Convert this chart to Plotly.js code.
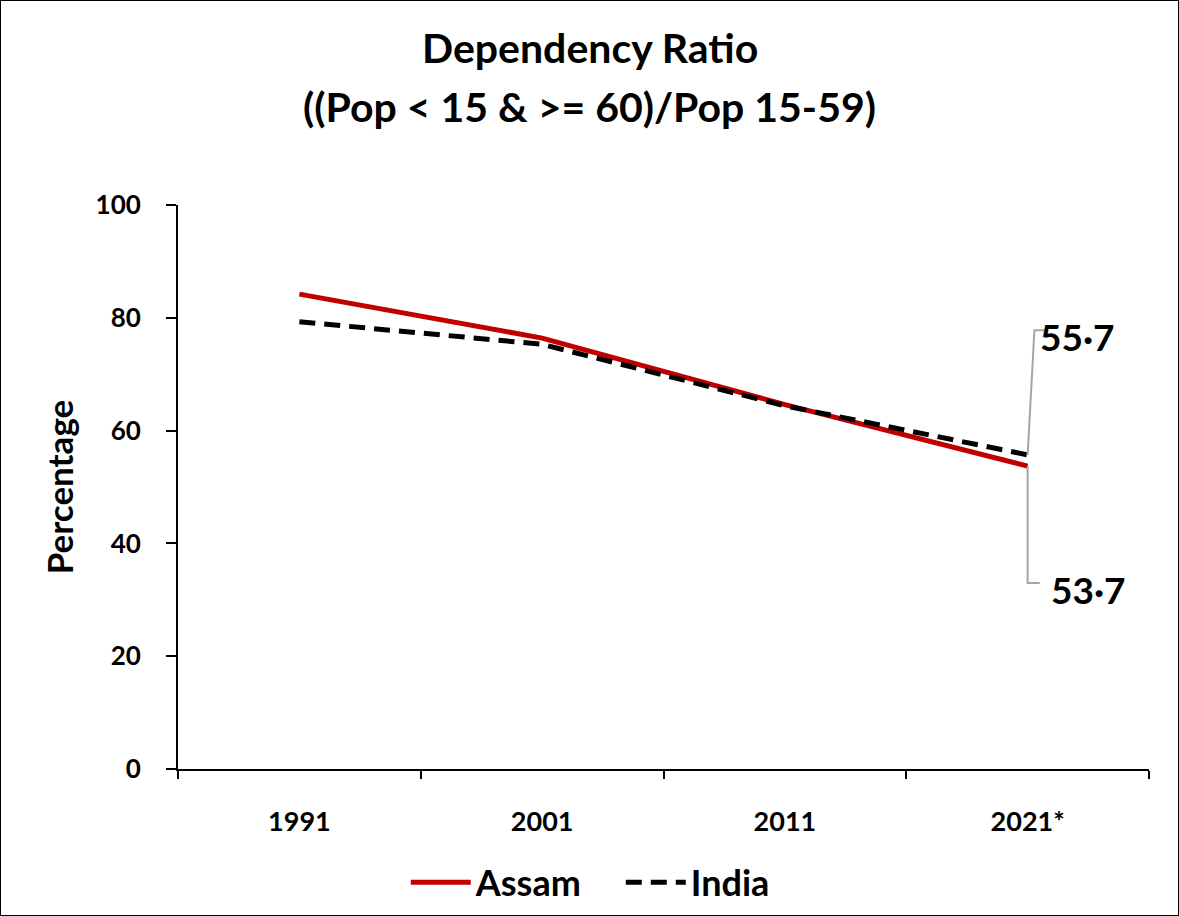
<!DOCTYPE html>
<html><head><meta charset="utf-8">
<script src="https://cdn.plot.ly/plotly-3.0.1.min.js"></script>
<style>html,body{margin:0;padding:0;background:#fff}#wrap{width:1179px;height:916px;box-sizing:border-box;border:1.5px solid #000;overflow:hidden}#chart{width:1176px;height:913px}</style>
</head><body><div id="wrap"><div id="chart"></div></div>
<script>
const years = ["1991", "2001", "2011", "2021*"];
const assam = [84.2, 76.4, 64.6, 53.7];
const india = [79.3, 75.3, 64.4, 55.7];
const labelAssam = "53·7";
const labelIndia = "55·7";
const titleLines = ["Dependency Ratio", "((Pop < 15 & >= 60)/Pop 15-59)"];

const F = "Lato, 'Open Sans', sans-serif";
const traces = [
  {x: years, y: assam, name: "Assam", type: "scatter", mode: "lines",
   line: {color: "#C00000", width: 5}},
  {x: years, y: india, name: "India", type: "scatter", mode: "lines",
   line: {color: "#000000", width: 5, dash: "16px,9px"}}
];
const layout = {
  width: 1176, height: 913,
  margin: {l: 177, r: 28, t: 204, b: 145, autoexpand: false},
  paper_bgcolor: "#fff", plot_bgcolor: "#fff",
  xaxis: {type: "category", range: [-0.5, 3.5], tickson: "boundaries",
          showline: true, linecolor: "#000", linewidth: 2, ticks: "outside", ticklen: 8, tickwidth: 2, tickcolor: "#000",
          showgrid: false, zeroline: false, ticklabelstandoff: 28,
          tickfont: {family: F, size: 27, color: "#000", weight: "bold"}},
  yaxis: {range: [0, 100], dtick: 20, showline: true, linecolor: "#000", linewidth: 2,
          ticks: "outside", ticklen: 10, tickwidth: 2, tickcolor: "#000", showgrid: false, zeroline: false,
          ticklabelstandoff: 20,
          tickfont: {family: F, size: 26, color: "#000", weight: "bold"},
          title: {text: "<b>Percentage</b>", font: {family: F, size: 35, color: "#000"}, standoff: 11}},
  showlegend: true,
  legend: {orientation: "h", x: 0.456, xanchor: "center", y: -0.201, yanchor: "middle",
           font: {family: F, size: 36, color: "#000", weight: "bold"}, itemwidth: 60,
           entrywidth: 140, entrywidthmode: "pixels"},
  shapes: [
    {type: "path", xref: "x", yref: "y", path: "M 3,55.7 L 3.028,77.8 L 3.08,77.8",
     line: {color: "#A6A6A6", width: 2}},
    {type: "path", xref: "x", yref: "y", path: "M 3,53.7 L 3,33.0 L 3.05,33.0",
     line: {color: "#A6A6A6", width: 2}}
  ],
  annotations: [
    {x: 0.424, y: 1.28, xref: "paper", yref: "paper", text: "<b>" + titleLines[0] + "</b>", showarrow: false,
     xanchor: "center", yanchor: "middle", font: {family: F, size: 41, color: "#000"}},
    {x: 0.424, y: 1.175, xref: "paper", yref: "paper", text: "<b>" + titleLines[1] + "</b>", showarrow: false,
     xanchor: "center", yanchor: "middle", font: {family: F, size: 41, color: "#000"}},
    {x: 3.043, y: 76.7, xref: "x", yref: "y", text: "<b>" + labelIndia + "</b>", showarrow: false,
     xanchor: "left", yanchor: "middle", font: {family: F, size: 37, color: "#000"}},
    {x: 3.09, y: 31.9, xref: "x", yref: "y", text: "<b>" + labelAssam + "</b>", showarrow: false,
     xanchor: "left", yanchor: "middle", font: {family: F, size: 37, color: "#000"}}
  ]
};
Plotly.newPlot("chart", traces, layout, {displayModeBar: false});
</script></body></html>
